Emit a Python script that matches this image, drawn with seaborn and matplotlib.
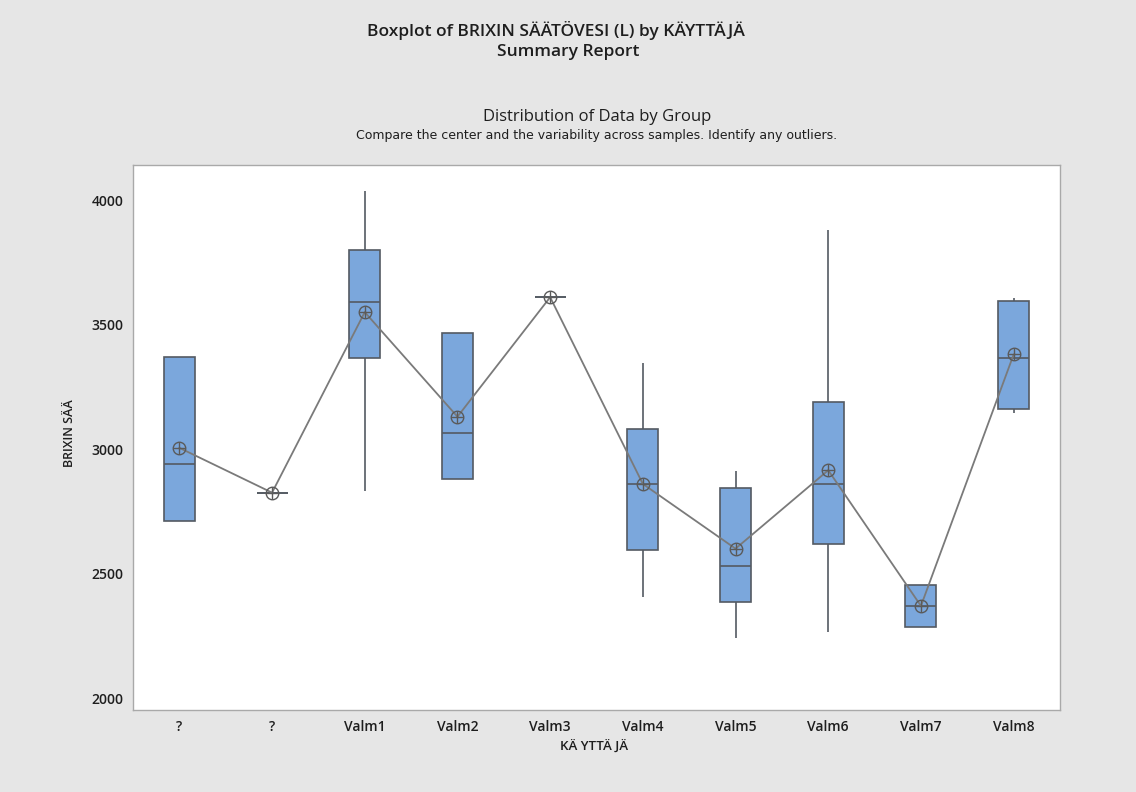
import numpy as np
import pandas as pd
import matplotlib
matplotlib.use('Agg')
import matplotlib.pyplot as plt
import seaborn as sns

#################################################################################
# data
# x axis labels (the first two groups are both shown as "?")
labels = ['?', '?', 'Valm1', 'Valm2', 'Valm3', 'Valm4', 'Valm5', 'Valm6', 'Valm7', 'Valm8']
# five number summary per group + group mean
mins    = [2710, 2825, 2830, 2880, 3610, 2405, 2240, 2265, 2285, 3145]
q1s     = [2710, 2825, 3365, 2880, 3610, 2595, 2385, 2620, 2285, 3160]
medians = [2940, 2825, 3590, 3065, 3610, 2860, 2530, 2860, 2370, 3365]
q3s     = [3370, 2825, 3800, 3465, 3610, 3080, 2845, 3190, 2455, 3595]
maxs    = [3370, 2825, 4035, 3465, 3610, 3345, 2910, 3880, 2455, 3605]
means   = [3005, 2825, 3550, 3130, 3610, 2860, 2600, 2915, 2370, 3380]
yticks  = [2000, 2500, 3000, 3500, 4000]
#################################################################################

# long table for seaborn: five values per group give exactly these quartiles
rows = []
for i in range(len(labels)):
    for v in (mins[i], q1s[i], medians[i], q3s[i], maxs[i]):
        rows.append({'grp': i, 'val': v})
df = pd.DataFrame(rows)

BG = '#e6e6e6'
BOX = '#7ba7dc'
EDGE = '#545a62'
LINE = '#7a7a7a'
AXC = '#a9a9a9'
TXT = '#1e1e1e'

sns.set_style('white')
plt.rcParams['font.family'] = ['Open Sans', 'DejaVu Sans']

fig = plt.figure(figsize=(11.36, 7.92), dpi=100, facecolor=BG)
ax = fig.add_axes([133/1136, 1-710/792, (1060-133)/1136, (710-165)/792])
ax.set_facecolor('white')

sns.boxplot(data=df, x='grp', y='val', ax=ax, whis=(0, 100), width=0.335,
            color=BOX, saturation=1, linecolor=EDGE, linewidth=1.2,
            showcaps=False, showfliers=False)

# mean connect line with circle-plus symbols
pos = np.arange(len(labels))
sns.lineplot(x=pos, y=means, ax=ax, color=LINE, linewidth=1.3, marker='o',
             markersize=9, markerfacecolor='none', markeredgecolor='#5a5a5a',
             markeredgewidth=1.0, zorder=5)
sns.scatterplot(x=pos, y=means, ax=ax, marker='+', s=85, color='#5a5a5a',
                linewidth=1.0, zorder=6)

ax.set_xlim(-0.5, len(labels)-0.5)
ax.set_ylim(1952, 4141)
ax.set_yticks(yticks)
ax.set_yticklabels([str(t) for t in yticks])
ax.set_xticks(pos)
ax.set_xticklabels(labels)

for s in ax.spines.values():
    s.set_color(AXC)
    s.set_linewidth(1.0)
ax.tick_params(axis='both', direction='out', length=4, width=1, color=AXC,
               labelcolor=TXT, labelsize=10, pad=3)
for t in ax.get_xticklabels() + ax.get_yticklabels():
    t.set_fontweight('semibold')

ax.set_xlabel('KÄ YTTÄ JÄ', fontsize=9.5, fontweight='semibold', color=TXT)
ax.set_ylabel('BRIXIN SÄÄ', fontsize=9, fontweight='semibold', color=TXT)
ax.xaxis.set_label_coords(0.497, -0.055)
ax.yaxis.set_label_coords(-0.0615, 0.508)

# titles
fig.text(556/1136, 1-31/792, 'Boxplot of BRIXIN SÄÄTÖVESI (L) by KÄYTTÄJÄ',
         ha='center', va='center', fontsize=12.5, fontweight='semibold', color=TXT)
fig.text(568/1136, 1-52/792, 'Summary Report', ha='center', va='center',
         fontsize=12.5, fontweight='semibold', color=TXT)
fig.text(597/1136, 1-117/792, 'Distribution of Data by Group', ha='center',
         va='center', fontsize=12, color=TXT)
fig.text(597/1136, 1-135/792,
         'Compare the center and the variability across samples. Identify any outliers.',
         ha='center', va='center', fontsize=9, color=TXT, family='DejaVu Sans')

fig.savefig('out.png', dpi=100, facecolor=BG)
